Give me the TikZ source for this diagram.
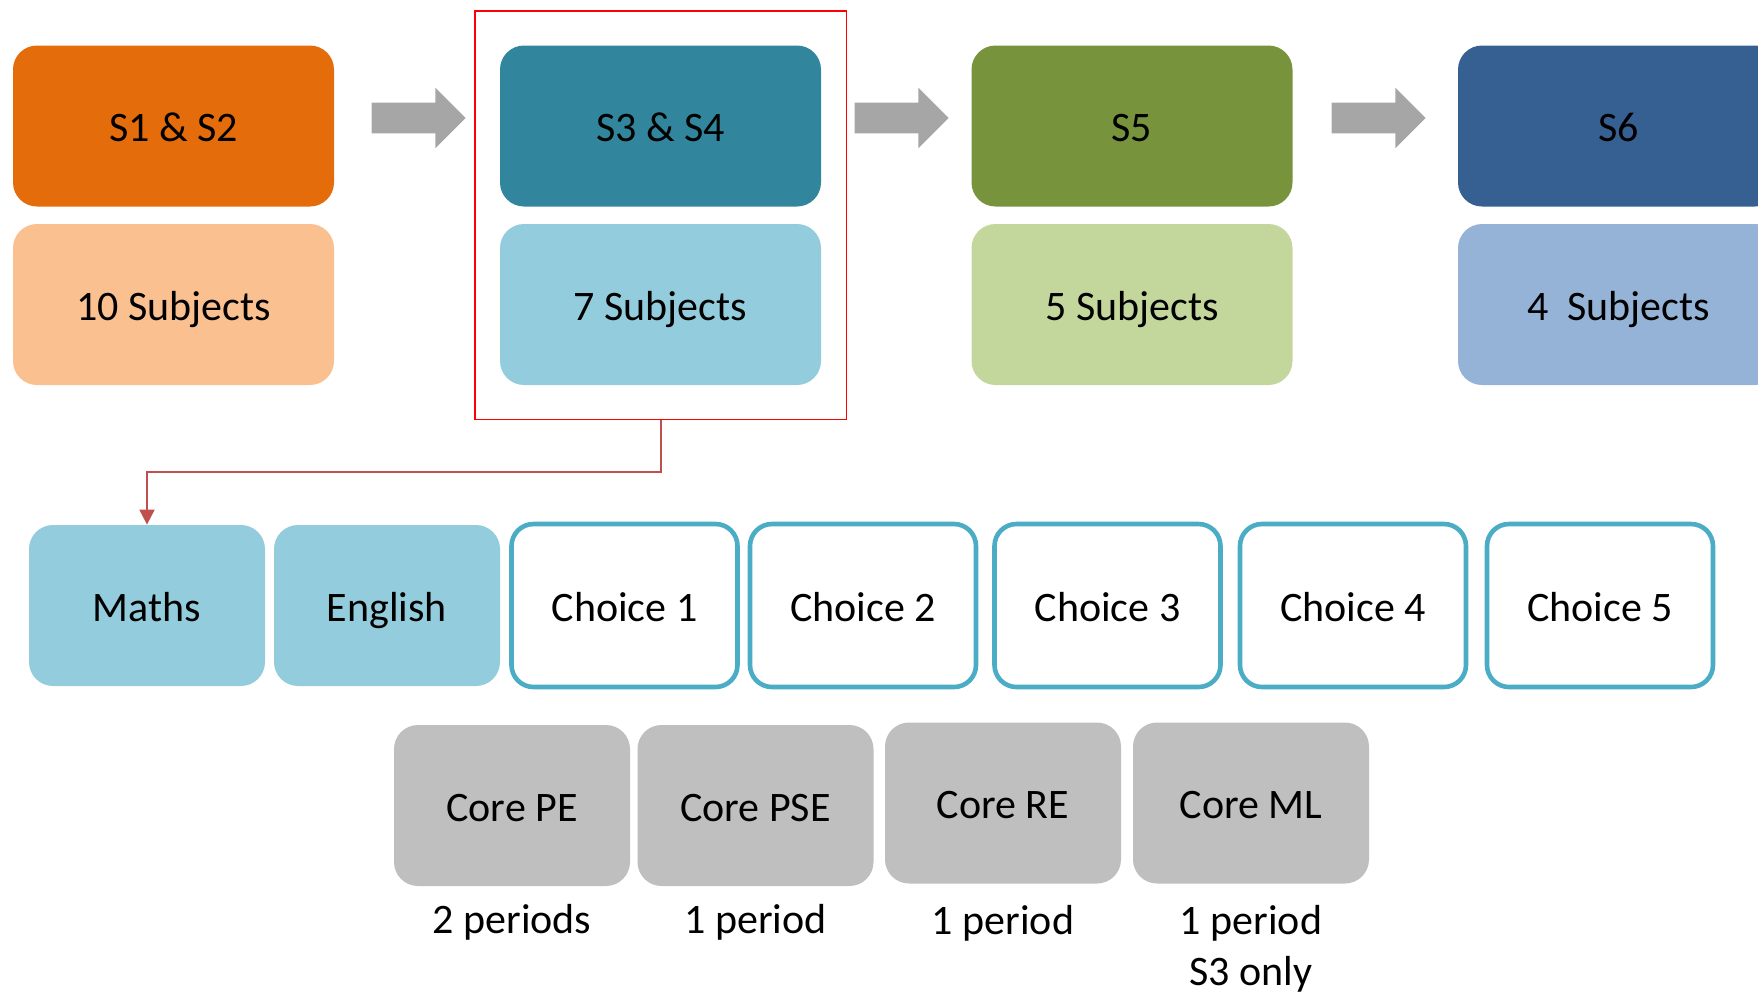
\documentclass[tikz,border=0pt]{standalone}
\usepackage{fontspec}
\setmainfont{Carlito}
\usetikzlibrary{arrows.meta, shapes.arrows, fit, positioning}
\definecolor{s12Dark}{HTML}{E46C0A}
\definecolor{s12Light}{HTML}{FAC090}
\definecolor{s34Dark}{HTML}{31859C}
\definecolor{s34Light}{HTML}{93CDDD}
\definecolor{s5Dark}{HTML}{77933C}
\definecolor{s5Light}{HTML}{C3D69B}
\definecolor{s6Dark}{HTML}{376092}
\definecolor{s6Light}{HTML}{95B3D7}
\definecolor{choiceEdge}{HTML}{4BACC6}
\definecolor{coreGrey}{HTML}{BFBFBF}
\definecolor{arrowGrey}{HTML}{A6A6A6}
\definecolor{linkRed}{HTML}{C0504D}
\tikzset{
    txt/.style={font=\fontsize{21}{25.5}\selectfont, text=black},
    stageBox/.style={txt, rounded corners=12pt, inner sep=0pt, minimum width=160.5pt, minimum height=80.5pt, text height=15.5pt, text depth=0pt},
    subjBox/.style={stageBox, minimum width=113pt},
    choiceBox/.style={subjBox, draw=choiceEdge, line width=2.3pt, fill=white, minimum height=81.5pt, rounded corners=11pt},
    coreBox/.style={subjBox, fill=coreGrey, minimum width=118pt},
    stepArrow/.style={single arrow, fill=arrowGrey, inner xsep=0pt, inner ysep=7.5pt, minimum height=47pt, minimum width=29.5pt, single arrow head extend=7.5pt, single arrow head indent=0pt},
    selBox/.style={draw=red, line width=0.9pt, inner xsep=12.5pt, inner ysep=17pt},
    selLink/.style={draw=linkRed, line width=1pt, -{Triangle[width=7.5pt, length=7.5pt]}},
    noteText/.style={txt, inner sep=0pt, align=center},
}

\begin{document}
\begin{tikzpicture}[x=0.5pt, y=-0.5pt]
    \useasboundingbox (0,0) rectangle (1758,993);
    \clip (0,0) rectangle (1758,993);

    % stages and subject counts
    \node[stageBox, fill=s12Dark] (s12) at (173.5,126) {S1 \& S2};
    \node[stageBox, fill=s12Light] (sub10) at (173.5,304.5) {10 Subjects};
    \node[stageBox, fill=s34Dark] (s34) at (660.5,126) {S3 \& S4};
    \node[stageBox, fill=s34Light] (sub7) at (660.5,304.5) {7 Subjects};
    \node[stageBox, fill=s5Dark] (s5) at (1132,126) {S5};
    \node[stageBox, fill=s5Light] (sub5) at (1132,304.5) {5 Subjects};
    \node[stageBox, fill=s6Dark] (s6) at (1618.5,126) {S6};
    \node[stageBox, fill=s6Light] (sub4) at (1618.5,304.5) {4~ Subjects};

    \node[stepArrow] (arr1) at (411,118) {};
    \node[stepArrow] (arr2) at (894,118) {};
    \node[stepArrow] (arr3) at (1371,118) {};

    \node[selBox, fit=(s34)(sub7)] (sel) {};

    % S3/S4 subjects
    \node[subjBox, fill=s34Light, minimum width=118pt] (maths) at (147,605.5) {Maths};
    \node[subjBox, fill=s34Light] (english) at (387,605.5) {English};
    \node[choiceBox] (ch1) at (624.5,605.5) {Choice 1};
    \node[choiceBox] (ch2) at (863,605.5) {Choice 2};
    \node[choiceBox] (ch3) at (1107.5,605.5) {Choice 3};
    \node[choiceBox] (ch4) at (1353,605.5) {Choice 4};
    \node[choiceBox] (ch5) at (1600,605.5) {Choice 5};

    \draw[selLink] (sel.south) -- ++(0,52) -| (maths.north);

    % core
    \node[coreBox] (pe) at (512,805.5) {Core PE};
    \node[coreBox] (pse) at (755.5,805.5) {Core PSE};
    \node[coreBox] (re) at (1003,803) {Core RE};
    \node[coreBox] (ml) at (1251,803) {Core ML};

    \node[noteText, below=9pt of pe] (peNote) {2 periods};
    \node[noteText, below=9pt of pse] (pseNote) {1 period};
    \node[noteText, below=10.5pt of re] (reNote) {1 period};
    \node[noteText, below=10.5pt of ml] (mlNote) {1 period\\S3 only};

\end{tikzpicture}
\end{document}
